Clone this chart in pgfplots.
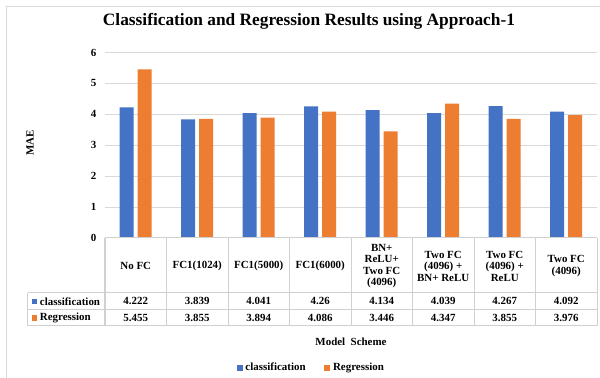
\documentclass[border=0pt]{standalone}
\usepackage{fontspec}
\setmainfont{Liberation Serif}
\usepackage{pgfplots}
\usepackage{pgfplotstable}
\pgfplotsset{compat=1.18}
\definecolor{cblue}{HTML}{4472C4}
\definecolor{corange}{HTML}{ED7D31}
\definecolor{gridgray}{HTML}{D9D9D9}
\definecolor{tablegray}{HTML}{D0D0D0}

\pgfplotstableread{
x cls reg
1 4.222 5.455
2 3.839 3.855
3 4.041 3.894
4 4.26 4.086
5 4.134 3.446
6 4.039 4.347
7 4.267 3.855
8 4.092 3.976
}\data

\newcommand{\tf}{\fontsize{8.2}{8.6}\selectfont\bfseries}

\begin{document}
\begin{tikzpicture}[font=\tf]
\begin{axis}[
  at={(0,0)}, anchor=south west,
  scale only axis, width=369pt, height=139.1pt,
  xmin=0.5, xmax=8.5, ymin=0, ymax=6,
  ytick={0,1,...,6},
  ymajorgrids, major grid style={gridgray, line width=0.75pt},
  xtick={1,...,8},
  xticklabels={No FC, FC1(1024), FC1(5000), FC1(6000), {BN+\\ReLU+\\Two FC\\(4096)}, {Two FC\\(4096) +\\BN+ ReLU}, {Two FC\\(4096) +\\ReLU}, {Two FC\\(4096)}},
  xticklabel style={anchor=center, yshift=-21pt, align=center, font=\tf},
  yticklabel style={font=\tf, xshift=-3pt},
  major tick length=0pt,
  axis line style={draw=none},
  clip=false,
  /pgf/number format/assume math mode=true,
  title={Classification and Regression Results using Approach-1},
  title style={at={(axis description cs:0.4146,1.1053)}, anchor=base, font=\fontsize{13}{15}\selectfont\bfseries},
  ylabel={MAE},
  ylabel style={at={(axis description cs:-0.1524,0.512)}, anchor=center, rotate=0, font=\tf},
  xlabel={Model\ \ Scheme},
  xlabel style={at={(axis description cs:0.5,0)}, anchor=center, yshift=-78pt, font=\tf},
  legend style={at={(axis description cs:0.42,-0.701)}, anchor=center, draw=none, fill=none, legend columns=2, font=\tf,
    /tikz/every even column/.append style={column sep=12pt}},
]
\addplot[ybar, bar width=10.5pt, bar shift=-6.75pt, fill=cblue, draw=none,
  legend image code/.code={\fill[cblue] (0pt,-2.3pt) rectangle (4.6pt,2.3pt);}]
  table[x=x, y=cls]{\data};
\addlegendentry{classification}
\addplot[ybar, bar width=10.5pt, bar shift=6.75pt, fill=corange, draw=none,
  legend image code/.code={\fill[corange] (0pt,-2.3pt) rectangle (4.6pt,2.3pt);}]
  table[x=x, y=reg]{\data};
\addlegendentry{Regression}
\addplot[draw=none, mark=none, forget plot, nodes near coords, point meta=explicit symbolic,
  nodes near coords style={anchor=center, font=\tf, inner sep=0pt}]
  table[x=x, y expr=-2.049, meta=cls]{\data};
\addplot[draw=none, mark=none, forget plot, nodes near coords, point meta=explicit symbolic,
  nodes near coords style={anchor=center, font=\tf, inner sep=0pt}]
  table[x=x, y expr=-2.588, meta=reg]{\data};
\end{axis}
% data table grid
\begin{scope}[tablegray, line width=0.75pt]
  \draw (0,0) -- (369pt,0);
  \draw (-57.75pt,-41pt) -- (369pt,-41pt);
  \draw (-57.75pt,-54pt) -- (369pt,-54pt);
  \draw (-57.75pt,-66pt) -- (369pt,-66pt);
  \draw (-57.75pt,-41pt) -- (-57.75pt,-66pt);
  \foreach \k in {0,...,8} {\draw (\k*46.125pt,0) -- (\k*46.125pt,-66pt);}
\end{scope}
% row labels with keys
\fill[cblue] (-55pt,-49.6pt) rectangle (-50.8pt,-45.4pt);
\node[anchor=west, inner sep=0pt] at (-49pt,-47.5pt) {classification};
\fill[corange] (-55pt,-62.1pt) rectangle (-50.8pt,-57.9pt);
\node[anchor=west, inner sep=0pt] at (-49pt,-60pt) {Regression};
% outer chart border
\draw[gridgray, line width=0.75pt] (-73.5pt,-105pt) -- (-73.5pt,173.25pt) -- (371.25pt,173.25pt);
\pgfresetboundingbox
\path (-78.75pt,-105pt) rectangle (371.25pt,178.5pt);
\end{tikzpicture}
\end{document}
